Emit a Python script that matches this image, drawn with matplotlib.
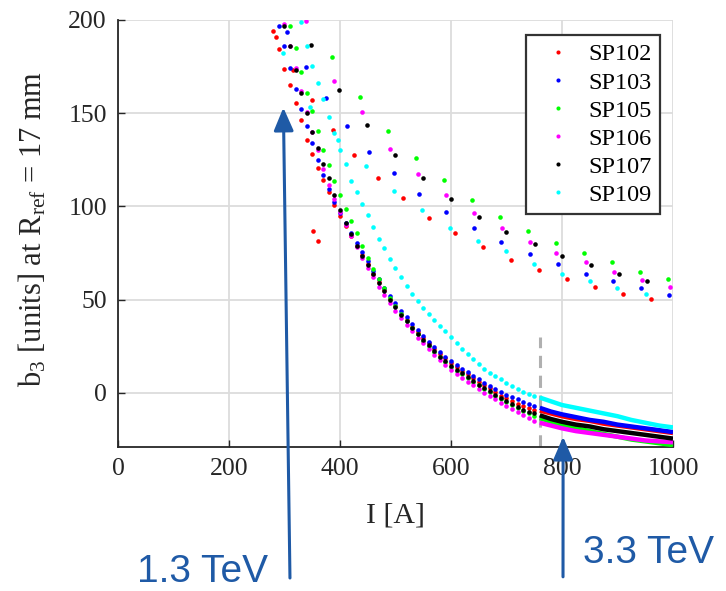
import numpy as np
import matplotlib.pyplot as plt

plt.rcParams['font.family'] = ['Liberation Serif', 'DejaVu Serif']
plt.rcParams['mathtext.fontset'] = 'custom'
plt.rcParams['mathtext.rm'] = 'Liberation Serif'
plt.rcParams['mathtext.it'] = 'Liberation Serif:italic'

nan = np.nan

magnets = ['SP102', 'SP103', 'SP105', 'SP106', 'SP107', 'SP109']
colors = ['#ff0000', '#0000ff', '#00ff00', '#ff00ff', '#000000', '#00ffff']

# up-ramp branch, one point every 10 A
I_main = np.arange(280, 751, 10)
b3_main = {
    'SP102': [194, 184.5, 173.5, 165, 155.5, 146.5, 135.5, 128, 120.5, 114,
              107.5, 101, 95, 89.5, 84, 79, 74, 69, 64, 59.5, 55, 50.5, 46.5,
              42.5, 39, 35.5, 32.5, 29.5, 26.5, 23.5, 21, 18.5, 16, 14, 12, 10,
              8, 6, 4, 2.5, 0.5, -1.5, -3, -4.5, -6, -7, -8, -9],
    'SP103': [nan, 197, 186, 174.5, 163, 152.5, 143, 134, 125, 117, 109.5,
              102.5, 96.5, 91, 85.5, 80.5, 75.5, 70.5, 65.5, 61, 56.5, 52, 48,
              44, 40.5, 37, 33.5, 30.5, 27.5, 24.5, 22, 19.5, 17, 15, 13, 11, 9,
              7.5, 5.5, 3.5, 2, 0.5, -1, -2, -3.5, -5, -6, -7],
    'SP105': [nan, nan, nan, 197, 185, 172, 161, 151, 140.5, 130, 122, 113.5,
              106, 98.5, 92, 85.5, 79, 72.5, 66.5, 61, 56, 51, 46.5, 42.5, 38.5,
              35, 31.5, 28, 25, 22, 19, 16.5, 14, 12, 10, 8, 6, 4, 2, 0.5, -1.5,
              -3.5, -5, -6.5, -8, -9.5, -11, -12.5],
    'SP106': [nan, nan, 198, 186, 174, 162, 150.5, 140, 130.5, 120, 111.5, 104,
              97, 90, 84, 78, 72.5, 67, 62, 57, 52.5, 48, 44, 40, 36.5, 33, 29.5,
              26.5, 23.5, 20.5, 17.5, 15, 12.5, 10, 8, 6, 4, 2, 0, -1.5, -3.5,
              -5.5, -7, -8.5, -10.5, -12, -13.5, -15],
    'SP107': [nan, nan, 197, 186, 173, 161, 150, 140, 131.5, 123, 115, 106, 98,
              91, 85, 79, 73.5, 68.5, 63.5, 59, 54.5, 50, 46, 42, 38.5, 35, 31.5,
              28.5, 25.5, 22.5, 19.5, 17, 14.5, 12.5, 10.5, 8.5, 6.5, 4.5, 2.5,
              1, -1, -3, -4.5, -6, -7.5, -9, -10, -11],
    'SP109': [nan, nan, nan, nan, nan, 199, 186, 175.5, 166, 157.5, 148, 139.5,
              130, 123, 113.5, 107.5, 101.5, 95.5, 89, 82.5, 77.5, 72, 67, 62,
              57.5, 53, 49.5, 45.5, 42.5, 39, 36, 33, 30, 26.5, 23.5, 21, 18,
              15.5, 13, 10.5, 9, 7.5, 5.5, 3.5, 2, 0.5, -0.5, -1.5],
}

# densely sampled part above the switch current
I_dense = [760, 780, 800, 825, 850, 875, 900, 925, 950, 975, 1000]
b3_dense = {
    'SP102': [-9.5, -11, -12.5, -14, -15, -16.5, -17.5, -18.5, -19.5, -20.5, -21.5],
    'SP103': [-8, -10, -11.5, -13, -14.5, -15.5, -17, -18, -19, -20, -21],
    'SP105': [-13.5, -15.5, -17.5, -19, -20.5, -22, -23.5, -25, -26, -27, -28],
    'SP106': [-16, -17.5, -19, -20.5, -21.5, -22.5, -23.5, -24.5, -25.5, -26, -26.5],
    'SP107': [-12, -14, -15.5, -17, -18, -19.5, -20.5, -21.5, -22.5, -23.5, -24.5],
    'SP109': [-2.5, -4.5, -6.5, -8, -9.5, -11, -12.5, -14.5, -16, -17.5, -18.5],
}

# sparse upper branch
I_upper = {
    'SP102': [285, 316, 350, 387, 426, 468, 513, 560, 608, 658, 708, 758, 809, 859, 910, 960],
    'SP103': [305, 339, 375, 412, 453, 497, 543, 591, 641, 691, 742, 793, 843, 892, 942, 993],
    'SP105': [385, 436, 487, 537, 587, 638, 688, 739, 789, 840, 890, 941, 991],
    'SP106': [339, 389, 440, 490, 541, 591, 641, 692, 743, 789, 843, 894, 944, 995],
    'SP107': [348, 398, 449, 499, 549, 600, 650, 700, 751, 800, 852, 903, 953],
    'SP109': [297, 346, 397, 447, 497, 548, 598, 648, 699, 750, 800, 850, 899, 951],
}
b3_upper = {
    'SP102': [191, 173, 157, 141, 127.5, 115, 104.5, 94, 85.5, 78, 71.5, 66, 61, 57, 53, 50.5],
    'SP103': [193.5, 175, 158, 143, 129, 118, 106.5, 97, 88.5, 81, 74.5, 69, 64, 60, 56, 52.5],
    'SP105': [180, 158.5, 140.5, 126, 114, 103.5, 94.5, 87, 80.5, 75, 70, 65, 61],
    'SP106': [199.5, 167.5, 150.5, 131, 117.5, 106, 96.5, 88.5, 81, 75, 70, 65, 60.5, 57],
    'SP107': [186.5, 162.5, 143.5, 127.5, 115, 104, 94.5, 86.5, 80, 73.5, 68.5, 64, 60],
    'SP109': [182.5, 153.5, 135.5, 121.5, 108.5, 98, 88.5, 81.5, 76, 69, 64, 60, 56, 53],
}

# two stray SP102 points
I_stray = [351, 361]
b3_stray = [87, 81.5]

switch_current = 760
switch_top = 30

energy_labels = ['1.3 TeV', '3.3 TeV']
energy_currents = [298, 802]

fig = plt.figure(figsize=(7.26, 5.91), dpi=100)
ax = fig.add_axes([0.1625, 0.2437, 0.7645, 0.7225])

ax.vlines(switch_current, -29, switch_top, colors='#b0b0b0', lw=2.2,
          linestyles=(0, (4, 2.5)), zorder=1)

ms = 3.3
for name, c in zip(magnets, colors):
    ax.plot(I_main, b3_main[name], ls='none', marker='o', ms=ms, mew=0,
            color=c, label=name, zorder=3)
    ax.plot(I_upper[name], b3_upper[name], ls='none', marker='o', ms=ms,
            mew=0, color=c, zorder=3)
    ax.plot(I_dense, b3_dense[name], color=c, lw=3.2, zorder=3,
            solid_capstyle='butt')
    if name == 'SP102':
        ax.plot(I_stray, b3_stray, ls='none', marker='o', ms=ms, mew=0,
                color=c, zorder=3)

ax.set_xlim(0, 1000)
ax.set_ylim(-29, 200)
ax.set_xticks([0, 200, 400, 600, 800, 1000])
ax.set_yticks([0, 50, 100, 150, 200])
ax.grid(True, color='#dcdcdc', lw=1.3)
ax.set_axisbelow(True)
for s in ['top', 'right']:
    ax.spines[s].set_visible(False)
for s in ['left', 'bottom']:
    ax.spines[s].set_color('#262626')
    ax.spines[s].set_linewidth(1.3)
ax.tick_params(direction='in', length=5, width=1, colors='#262626',
               labelsize=18.5, pad=8)

ax.set_xlabel('I [A]', fontsize=21.5, color='#262626', labelpad=16)
ax.set_ylabel(r'b$_3$ [units] at R$_{\mathrm{ref}}$ = 17 mm', fontsize=22,
              color='#262626')
ax.yaxis.set_label_coords(-0.125, 0.51)

leg = ax.legend(loc='upper right', bbox_to_anchor=(0.977, 0.965),
                borderaxespad=0, fontsize=17.5, markerscale=0.9,
                handlelength=1.9, handletextpad=0.3, labelspacing=0.25,
                borderpad=0.35, fancybox=False, framealpha=1)
leg.get_frame().set_edgecolor('#333333')
leg.get_frame().set_linewidth(1.6)

arrow_blue = '#1f5aa6'
tails = [(0.3994, 0.022), (0.7755, 0.024)]
tips_b3 = [153, -23.5]
text_pos = [(0.279, 0.032), (0.893, 0.064)]
for lab, cur, tail, tb, tp in zip(energy_labels, energy_currents, tails,
                                  tips_b3, text_pos):
    ax.annotate('', xy=(cur, tb), xycoords='data', xytext=tail,
                textcoords='figure fraction', annotation_clip=False,
                arrowprops=dict(arrowstyle='-|>,head_length=0.7,head_width=0.3',
                                mutation_scale=20, color=arrow_blue, lw=2.2,
                                shrinkA=0, shrinkB=0))
    fig.text(tp[0], tp[1], lab, ha='center', va='center', fontsize=28,
             color=arrow_blue, family='Liberation Sans')

fig.savefig('out.png', dpi=100)
